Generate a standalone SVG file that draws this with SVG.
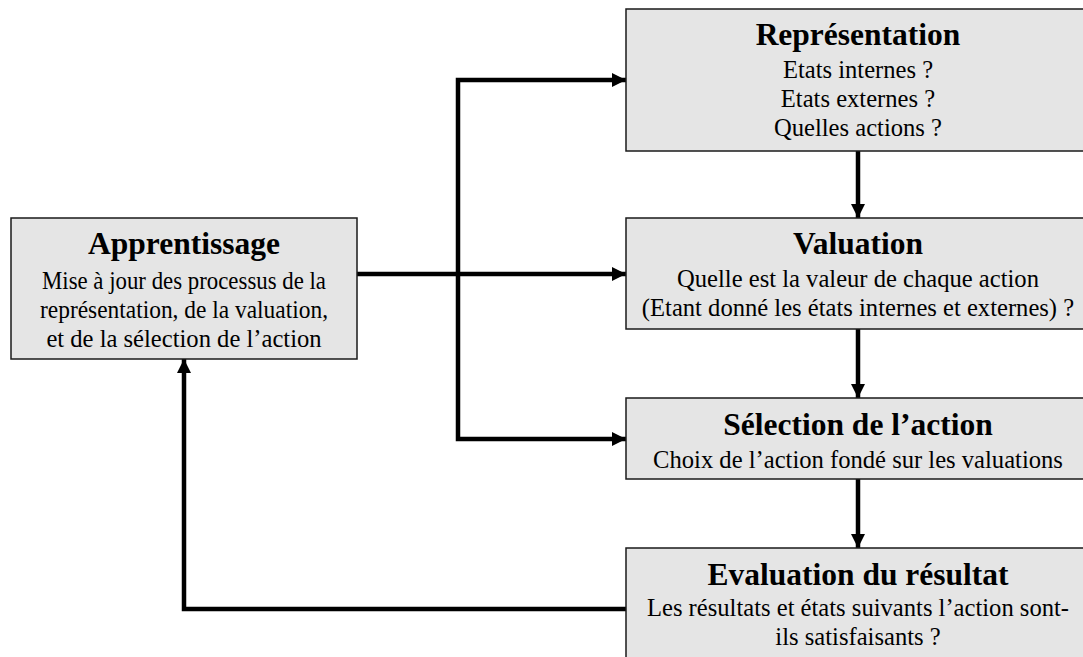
<svg xmlns="http://www.w3.org/2000/svg" width="1083" height="657" viewBox="0 0 1083 657">
  <style>
    .box { fill: #e5e5e5; stroke: #1a1a1a; stroke-width: 1.5; }
    .title { font-family: "Liberation Serif", "Times New Roman", serif; font-weight: bold; font-size: 31.5px; fill: #000; text-anchor: middle; }
    .body { font-family: "Liberation Serif", "Times New Roman", serif; font-size: 24.6px; fill: #000; text-anchor: middle; }
    .conn { fill: none; stroke: #000; stroke-width: 4.5; stroke-linejoin: miter; }
  </style>
  <defs>
    <marker id="arrow" markerUnits="userSpaceOnUse" markerWidth="15" markerHeight="15" refX="14" refY="7" orient="auto-start-reverse">
      <path d="M0,0 L14,7 L0,14 z" fill="#000"/>
    </marker>
  </defs>
  <rect width="1083" height="657" fill="#fff"/>

  <g id="connectors">
    <path class="conn" d="M858,151 V218" marker-end="url(#arrow)"/>
    <path class="conn" d="M858,329 V398" marker-end="url(#arrow)"/>
    <path class="conn" d="M858,479 V548" marker-end="url(#arrow)"/>
    <path class="conn" d="M357,274 H626" marker-end="url(#arrow)"/>
    <path class="conn" d="M626,80 H458 V439 H626" marker-start="url(#arrow)" marker-end="url(#arrow)"/>
    <path class="conn" d="M626,609 H184 V359" marker-end="url(#arrow)"/>
  </g>

  <g id="apprentissage">
    <rect class="box" x="11" y="218" width="346" height="141"/>
    <text class="title" x="184" y="254">Apprentissage</text>
    <text class="body" x="184" y="289" textLength="284" lengthAdjust="spacingAndGlyphs">Mise à jour des processus de la</text>
    <text class="body" x="184" y="318" textLength="288" lengthAdjust="spacingAndGlyphs">représentation, de la valuation,</text>
    <text class="body" x="184" y="347">et de la sélection de l’action</text>
  </g>

  <g id="representation">
    <rect class="box" x="626" y="9" width="464" height="142"/>
    <text class="title" x="858" y="45">Représentation</text>
    <text class="body" x="858" y="78">Etats internes ?</text>
    <text class="body" x="858" y="107">Etats externes ?</text>
    <text class="body" x="858" y="136">Quelles actions ?</text>
  </g>

  <g id="valuation">
    <rect class="box" x="626" y="218" width="464" height="111"/>
    <text class="title" x="858" y="254">Valuation</text>
    <text class="body" x="858" y="287">Quelle est la valeur de chaque action</text>
    <text class="body" x="858" y="316">(Etant donné les états internes et externes) ?</text>
  </g>

  <g id="selection">
    <rect class="box" x="626" y="398" width="464" height="81"/>
    <text class="title" x="858" y="435">Sélection de l’action</text>
    <text class="body" x="858" y="468">Choix de l’action fondé sur les valuations</text>
  </g>

  <g id="evaluation">
    <rect class="box" x="626" y="548" width="464" height="120"/>
    <text class="title" x="858" y="585">Evaluation du résultat</text>
    <text class="body" x="858" y="616">Les résultats et états suivants l’action sont-</text>
    <text class="body" x="858" y="645">ils satisfaisants ?</text>
  </g>
</svg>
